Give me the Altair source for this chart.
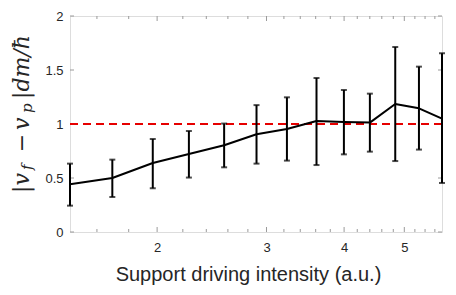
import math
import altair as alt
import pandas as pd

# ---- data ----
intensity = [1.448, 1.694, 1.968, 2.250, 2.564, 2.891, 3.236, 3.611, 3.997, 4.401, 4.835, 5.279, 5.750]
mean_dv = [0.442, 0.500, 0.639, 0.722, 0.803, 0.905, 0.954, 1.028, 1.019, 1.013, 1.185, 1.145, 1.050]
err_hi = [0.633, 0.670, 0.861, 0.935, 1.004, 1.175, 1.247, 1.426, 1.315, 1.281, 1.713, 1.531, 1.655]
err_lo = [0.244, 0.324, 0.405, 0.504, 0.599, 0.633, 0.661, 0.620, 0.719, 0.744, 0.657, 0.763, 0.454]

x_labels = [2, 3, 4, 5]
x_minor = [1.6, 1.8, 2.2, 2.4, 2.6, 2.8, 3.2, 3.4, 3.6, 3.8, 4.2, 4.4, 4.6, 4.8, 5.2, 5.4, 5.6]
y_labels = [0, 0.5, 1, 1.5, 2]
ref_level = 1
x_title = "Support driving intensity (a.u.)"
# y title pieces: |v_f − v_p|dm/ħ  (text, is_subscript)
y_title_parts = [("|v", False), ("f", True), ("−", False), ("v", False), ("p", True), ("|dm/ħ", False)]

X_MIN, X_MAX = 1.448, 5.75
Y_MIN, Y_MAX = 0, 2
W, H = 372, 216
AX = "#9a9a9a"
TXT = "#262626"

df = pd.DataFrame({"x": intensity, "y": mean_dv, "hi": err_hi, "lo": err_lo})

xs = alt.Scale(type="log", domain=[X_MIN, X_MAX], nice=False, zero=False)
ys = alt.Scale(domain=[Y_MIN, Y_MAX], nice=False)

x_axis = alt.Axis(values=x_labels, format="d", ticks=False, domain=False, grid=False,
                  labelFontSize=13, labelColor=TXT, labelFont="Liberation Sans",
                  labelPadding=9,
                  title=x_title, titleFont="Liberation Sans",
                  titleFontSize=20, titleFontWeight="normal", titleColor=TXT,
                  titleX=178, titleY=48.6, titleAlign="center", titleBaseline="alphabetic")
y_axis = alt.Axis(values=y_labels, format="~g", ticks=False, domain=False, grid=False,
                  labelFontSize=13, labelColor=TXT, labelFont="Liberation Sans",
                  labelPadding=7, title=None)

ref = alt.Chart(df).mark_rule(color="#e60000", strokeWidth=1.6, strokeDash=[8, 5]).encode(
    y=alt.datum(ref_level, scale=ys)
)

line = alt.Chart(df).mark_line(color="black", strokeWidth=2, strokeJoin="round").encode(
    x=alt.X("x:Q", scale=xs, axis=x_axis),
    y=alt.Y("y:Q", scale=ys, axis=y_axis),
)
bars = alt.Chart(df).mark_rule(color="black", strokeWidth=2).encode(
    x=alt.X("x:Q", scale=xs), y=alt.Y("lo:Q", scale=ys), y2="hi:Q"
)
cap_hi = alt.Chart(df).mark_tick(color="black", orient="horizontal", size=6, thickness=2).encode(
    x=alt.X("x:Q", scale=xs), y=alt.Y("hi:Q", scale=ys)
)
cap_lo = alt.Chart(df).mark_tick(color="black", orient="horizontal", size=6, thickness=2).encode(
    x=alt.X("x:Q", scale=xs), y=alt.Y("lo:Q", scale=ys)
)

# inward axis ticks (box style)
py = (Y_MAX - Y_MIN) / H
px = math.log(X_MAX / X_MIN) / W
tick_rows = [{"x": v, "len": 3} for v in x_minor] + [{"x": v, "len": 5} for v in x_labels]
tdf = pd.DataFrame(tick_rows)
tdf["b0"] = Y_MIN
tdf["b1"] = Y_MIN + tdf["len"] * py
tdf["t0"] = Y_MAX
tdf["t1"] = Y_MAX - tdf["len"] * py
ydf = pd.DataFrame({"y": y_labels})
ydf["l0"] = X_MIN
ydf["l1"] = X_MIN * math.exp(4 * px)
ydf["r0"] = X_MAX
ydf["r1"] = X_MAX * math.exp(-4 * px)

tb = alt.Chart(tdf).mark_rule(color=AX, strokeWidth=1).encode(
    x=alt.X("x:Q", scale=xs), y=alt.Y("b0:Q", scale=ys), y2="b1:Q")
tt = alt.Chart(tdf).mark_rule(color=AX, strokeWidth=1).encode(
    x=alt.X("x:Q", scale=xs), y=alt.Y("t0:Q", scale=ys), y2="t1:Q")
tl = alt.Chart(ydf).mark_rule(color=AX, strokeWidth=1).encode(
    y=alt.Y("y:Q", scale=ys), x=alt.X("l0:Q", scale=xs), x2="l1:Q")
tr = alt.Chart(ydf).mark_rule(color=AX, strokeWidth=1).encode(
    y=alt.Y("y:Q", scale=ys), x=alt.X("r0:Q", scale=xs), x2="r1:Q")

# rotated math-style y title built from pieces (so subscripts are real subscripts)
# placement (plot-area pixels): start position along the title, baseline offset
piece_start = [177, 154, 127, 114, 97, 83]
piece_align = ["left", "left", "center", "left", "left", "left"]
title_layers = []
one = pd.DataFrame({"k": [0]})
for (txt, sub), start, al in zip(y_title_parts, piece_start, piece_align):
    title_layers.append(
        alt.Chart(one).mark_text(
            text=txt, angle=270, align=al, baseline="alphabetic",
            font="DejaVu Serif", fontStyle="italic",
            fontSize=15 if sub else 22, color=TXT,
        ).encode(x=alt.value(-38 if sub else -41.5), y=alt.value(start))
    )

chart = alt.layer(tb, tt, tl, tr, ref, bars, cap_hi, cap_lo, line, *title_layers).properties(
    width=W, height=H,
    autosize=alt.AutoSizeParams(type="none"),
    padding={"left": 62, "top": 8, "right": 6, "bottom": 55},
).configure_view(stroke=AX, strokeWidth=1).configure(background="white")

chart.save("out.html", embed_options={"renderer": "svg", "actions": False})
